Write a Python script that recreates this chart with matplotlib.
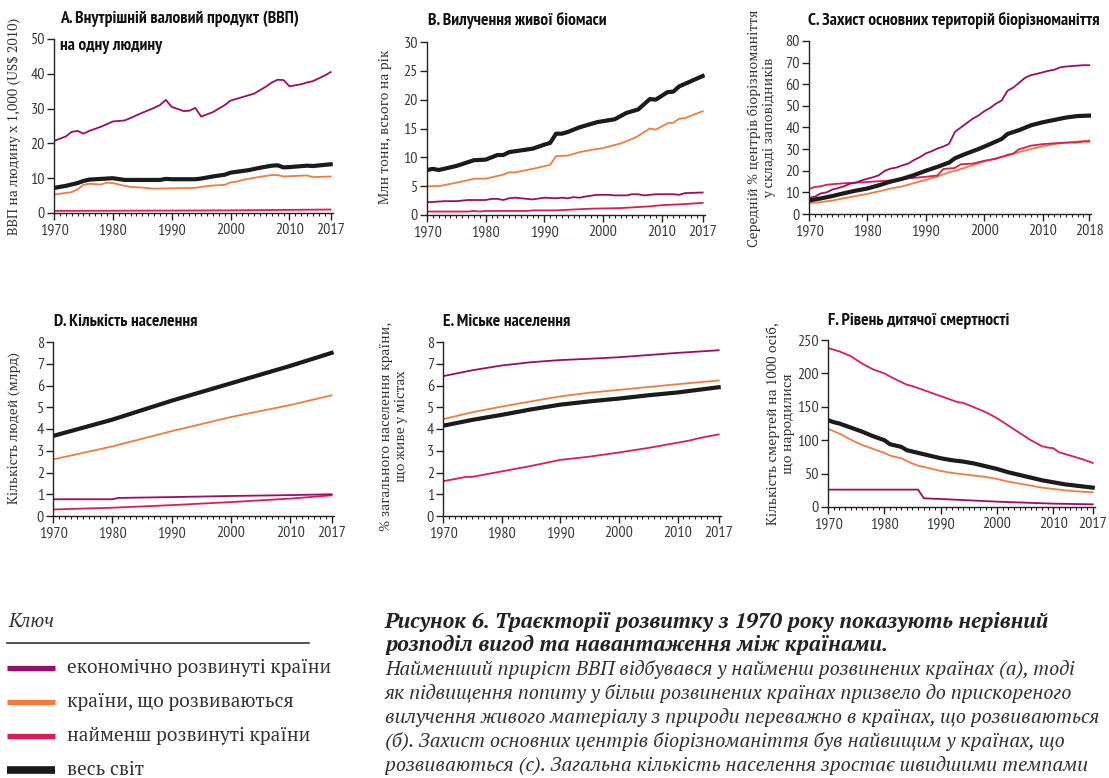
import matplotlib
matplotlib.use("Agg")
import matplotlib.pyplot as plt
from matplotlib.ticker import MultipleLocator, FixedLocator

# ---------------- DATA ----------------
# A. GDP per capita (thousand US$ 2010)
a_years_dev = [1970, 1972, 1973, 1974, 1975, 1976, 1978, 1980, 1982, 1983, 1985, 1987, 1988, 1989, 1990, 1992, 1993, 1994, 1995, 1997, 1999, 2000, 2002, 2004, 2006, 2007, 2008, 2009, 2010, 2012, 2013, 2014, 2016, 2017]
a_dev = [20.7, 22.0, 23.3, 23.6, 22.8, 23.6, 24.8, 26.3, 26.6, 27.3, 28.8, 30.2, 31.0, 32.5, 30.5, 29.3, 29.4, 30.2, 27.7, 29.0, 31.0, 32.3, 33.3, 34.3, 36.3, 37.5, 38.3, 38.2, 36.4, 37.0, 37.5, 37.9, 39.5, 40.5]
a_years_wld = [1970, 1972, 1974, 1975, 1976, 1979, 1980, 1982, 1985, 1988, 1989, 1990, 1994, 1995, 1997, 1999, 2000, 2003, 2005, 2007, 2008, 2009, 2010, 2013, 2014, 2017]
a_wld = [7.2, 7.8, 8.6, 9.2, 9.6, 9.9, 10.0, 9.5, 9.5, 9.5, 9.8, 9.7, 9.7, 9.9, 10.5, 11.0, 11.6, 12.3, 13.0, 13.6, 13.7, 13.1, 13.2, 13.6, 13.5, 14.0]
a_years_dvg = [1970, 1973, 1974, 1975, 1976, 1978, 1979, 1980, 1982, 1983, 1985, 1987, 1990, 1994, 1995, 1997, 1999, 2000, 2001, 2002, 2005, 2007, 2008, 2009, 2013, 2014, 2017]
a_dvg = [5.3, 6.0, 6.8, 8.1, 8.4, 8.2, 8.7, 8.6, 7.8, 7.5, 7.3, 7.0, 7.1, 7.2, 7.5, 7.9, 8.1, 8.8, 9.0, 9.5, 10.4, 10.9, 10.9, 10.5, 10.8, 10.3, 10.5]
a_years_ldc = [1970, 1980, 1990, 2000, 2010, 2017]
a_ldc = [0.6, 0.65, 0.7, 0.75, 0.9, 1.0]

# B. Living biomass extraction (Mt per year)
b_years_wld = [1970, 1971, 1972, 1975, 1978, 1980, 1982, 1983, 1984, 1986, 1988, 1990, 1991, 1992, 1993, 1994, 1996, 1999, 2002, 2004, 2006, 2008, 2009, 2011, 2012, 2013, 2017]
b_wld = [7.8, 8.0, 7.8, 8.5, 9.5, 9.6, 10.4, 10.4, 10.9, 11.2, 11.5, 12.2, 12.5, 14.1, 14.1, 14.4, 15.2, 16.1, 16.6, 17.7, 18.3, 20.1, 20.0, 21.3, 21.4, 22.3, 24.1]
b_years_dvg = [1970, 1972, 1974, 1976, 1978, 1980, 1983, 1984, 1985, 1988, 1991, 1992, 1994, 1996, 1998, 2000, 2003, 2005, 2006, 2008, 2009, 2011, 2012, 2013, 2014, 2017]
b_dvg = [5.0, 5.0, 5.4, 5.8, 6.3, 6.3, 7.0, 7.4, 7.4, 8.0, 8.7, 10.2, 10.3, 10.9, 11.3, 11.6, 12.4, 13.2, 13.7, 15.0, 14.8, 15.9, 16.0, 16.7, 16.8, 18.0]
b_years_dev = [1970, 1973, 1975, 1977, 1980, 1981, 1982, 1983, 1984, 1985, 1988, 1990, 1992, 1993, 1994, 1995, 1996, 1997, 1999, 2001, 2002, 2004, 2005, 2006, 2007, 2009, 2012, 2013, 2014, 2017]
b_dev = [2.2, 2.4, 2.4, 2.6, 2.6, 2.8, 2.8, 2.6, 2.9, 3.0, 2.7, 3.0, 2.9, 3.0, 2.9, 3.1, 3.0, 3.2, 3.5, 3.5, 3.4, 3.4, 3.6, 3.6, 3.4, 3.6, 3.6, 3.5, 3.8, 3.9]
b_years_ldc = [1970, 1977, 1978, 1979, 1980, 1987, 1988, 1992, 1994, 1998, 2003, 2008, 2010, 2012, 2014, 2017]
b_ldc = [0.6, 0.6, 0.7, 0.6, 0.7, 0.7, 0.8, 0.8, 0.9, 1.1, 1.2, 1.5, 1.7, 1.8, 1.9, 2.1]

# C. Protection of key biodiversity areas (%)
c_years_dev = [1970, 1971, 1972, 1973, 1974, 1975, 1976, 1977, 1978, 1979, 1980, 1981, 1982, 1983, 1984, 1985, 1986, 1987, 1988, 1989, 1990, 1991, 1992, 1993, 1994, 1995, 1996, 1997, 1998, 1999, 2000, 2001, 2002, 2003, 2004, 2005, 2006, 2007, 2008, 2009, 2010, 2011, 2012, 2013, 2014, 2015, 2016, 2017, 2018]
c_dev = [7.5, 8.0, 9.5, 10.0, 11.3, 12.0, 12.8, 14.0, 14.5, 15.5, 16.3, 17.0, 18.0, 20.0, 21.0, 21.5, 22.5, 23.3, 25.0, 26.3, 28.0, 29.0, 30.3, 31.2, 32.5, 38.0, 40.0, 42.0, 44.0, 45.5, 47.5, 49.0, 51.0, 52.5, 57.0, 58.5, 60.7, 63.0, 64.2, 64.8, 65.5, 66.2, 66.7, 67.8, 68.2, 68.4, 68.6, 68.8, 68.8]
c_years_ldc = [1970, 1971, 1972, 1973, 1974, 1976, 1978, 1980, 1984, 1986, 1988, 1990, 1992, 1993, 1995, 1996, 1998, 2000, 2002, 2004, 2005, 2006, 2007, 2008, 2010, 2012, 2014, 2016, 2017, 2018]
c_ldc = [11.5, 12.5, 12.8, 13.5, 13.8, 14.2, 14.5, 14.8, 15.5, 16.2, 16.7, 17.2, 17.8, 20.8, 21.3, 23.0, 23.3, 24.6, 25.5, 27.3, 28.0, 30.0, 30.7, 31.6, 32.3, 32.7, 33.0, 33.1, 33.5, 33.5]
c_years_dvg = [1970, 1972, 1974, 1976, 1978, 1980, 1982, 1984, 1986, 1988, 1990, 1992, 1994, 1996, 1998, 2000, 2002, 2004, 2006, 2008, 2010, 2012, 2014, 2016, 2018]
c_dvg = [5.0, 5.5, 6.2, 7.3, 8.3, 9.3, 10.5, 11.8, 12.8, 14.3, 15.8, 17.3, 19.3, 20.8, 22.5, 24.3, 25.8, 27.0, 28.7, 30.0, 31.3, 32.3, 33.0, 33.5, 34.0]
c_years_wld = [1970, 1972, 1974, 1976, 1978, 1980, 1982, 1984, 1986, 1988, 1990, 1992, 1994, 1995, 1997, 1999, 2001, 2003, 2004, 2006, 2008, 2010, 2012, 2014, 2016, 2018]
c_wld = [6.3, 7.2, 8.3, 9.6, 10.8, 11.8, 13.3, 15.0, 16.3, 18.0, 20.0, 21.8, 23.8, 25.8, 28.0, 30.0, 32.3, 34.7, 37.0, 38.8, 41.0, 42.4, 43.5, 44.6, 45.3, 45.5]

# D. Population (billion)
d_years = [1970, 1980, 1990, 2000, 2010, 2017]
d_wld = [3.68, 4.43, 5.3, 6.1, 6.9, 7.5]
d_dvg = [2.6, 3.2, 3.9, 4.55, 5.1, 5.55]
d_years_dev = [1970, 1980, 1981, 1990, 2000, 2010, 2017]
d_dev = [0.77, 0.77, 0.83, 0.87, 0.92, 0.96, 1.0]
d_ldc = [0.3, 0.38, 0.5, 0.64, 0.8, 0.95]

# E. Urban population
e_years = [1970, 1975, 1980, 1985, 1990, 1995, 2000, 2005, 2010, 2017]
e_dev = [6.43, 6.7, 6.92, 7.07, 7.17, 7.23, 7.3, 7.4, 7.5, 7.62]
e_dvg = [4.45, 4.77, 5.03, 5.27, 5.5, 5.67, 5.8, 5.93, 6.06, 6.23]
e_wld = [4.15, 4.42, 4.65, 4.9, 5.12, 5.27, 5.4, 5.55, 5.68, 5.92]
e_years_ldc = [1970, 1974, 1975, 1980, 1985, 1990, 1995, 2000, 2005, 2010, 2012, 2014, 2017]
e_ldc = [1.6, 1.8, 1.8, 2.05, 2.3, 2.58, 2.73, 2.92, 3.13, 3.37, 3.47, 3.6, 3.75]

# F. Child mortality (per 1000 births)
f_years_ldc = [1970, 1972, 1974, 1976, 1978, 1980, 1982, 1984, 1985, 1988, 1990, 1992, 1993, 1994, 1996, 1998, 2000, 2002, 2004, 2006, 2008, 2009, 2010, 2011, 2013, 2015, 2017]
f_ldc = [238, 233, 226, 215, 206, 200, 191, 183, 181, 172, 166, 160, 157, 156, 149, 142, 133, 122, 111, 100, 91, 89, 88, 82, 77, 72, 66]
f_years_wld = [1970, 1971, 1972, 1974, 1976, 1978, 1980, 1981, 1982, 1983, 1984, 1986, 1988, 1990, 1992, 1994, 1996, 1998, 2000, 2002, 2004, 2006, 2008, 2010, 2012, 2014, 2017]
f_wld = [130, 127, 125, 119, 113, 106, 100, 94, 92, 90, 85, 81, 77, 73, 70, 68, 65, 61, 57, 52, 48, 44, 40, 37, 34, 32, 29]
f_years_dvg = [1970, 1972, 1974, 1976, 1978, 1980, 1981, 1983, 1984, 1985, 1986, 1988, 1990, 1992, 1994, 1996, 1998, 2000, 2002, 2004, 2006, 2008, 2010, 2012, 2014, 2017]
f_dvg = [117, 110, 101, 93, 87, 81, 77, 73, 69, 65, 62, 58, 54, 51, 49, 47, 45, 42, 38, 35, 32, 29, 27, 25, 23.5, 22]
f_years_dev = [1970, 1986, 1987, 1990, 2000, 2010, 2017]
f_dev = [26, 26, 13, 12, 8, 5, 4]

titles = ["A. Внутрішній валовий продукт (ВВП)\nна одну людину",
          "B. Вилучення живої біомаси",
          "C. Захист основних територій біорізноманіття",
          "D. Кількість населення",
          "E. Міське населення",
          "F. Рівень дитячої смертності"]
ylabels = ["ВВП на людину х 1,000 (US$ 2010)",
           "Млн тонн, всього на рік",
           "Середній % центрів біорізноманіття\nу складі заповідників",
           "Кількість людей (млрд)",
           "% загального населення країни,\nщо живе у містах",
           "Кількість смертей на 1000 осіб,\nщо народилися"]
legend_labels = ["економічно розвинуті країни", "країни, що розвиваються",
                 "найменш розвинуті країни", "весь світ"]
caption_bold = ["Рисунок 6. Траєкторії розвитку з 1970 року показують нерівний",
                "розподіл вигод та навантаження між країнами."]
caption_lines = ["Найменший приріст ВВП відбувався у найменш розвинених країнах (а), тоді",
                 "як підвищення попиту у більш розвинених країнах призвело до прискореного",
                 "вилучення живого матеріалу з природи переважно в країнах, що розвиваються",
                 "(б). Захист основних центрів біорізноманіття був найвищим у країнах, що",
                 "розвиваються (с). Загальна кількість населення зростає швидшими темпами"]

# ---------------- STYLE ----------------
C_DEV = "#9C0B6B"
C_DVG = "#F47A3E"
C_LDC = "#DB1C55"
C_WLD = "#1B1B1B"
LW_THIN = 1.3
LW_WLD = 3.0

TITLE_FONT = ["PT Sans Narrow", "Oswald", "DejaVu Sans"]
TICK_FONT = ["PT Sans Narrow", "Roboto Condensed", "DejaVu Sans"]
SERIF = ["PT Serif", "Liberation Serif", "DejaVu Serif"]

W, H = 1109, 778
fig = plt.figure(figsize=(W / 100, H / 100), dpi=100)


def fx(px):
    return px / W


def fy(py):
    return 1 - py / H


def make_ax(left, top, right, bottom, xmax, ymax, ystep, xticks, xlabels):
    ax = fig.add_axes([fx(left), fy(bottom), fx(right - left), (bottom - top) / H])
    ax.set_xlim(1970, xmax)
    ax.set_ylim(0, ymax)
    for s in ["top", "right"]:
        ax.spines[s].set_visible(False)
    for s in ["left", "bottom"]:
        ax.spines[s].set_color("#222222")
        ax.spines[s].set_linewidth(1.0)
    ax.yaxis.set_major_locator(MultipleLocator(ystep))
    ax.xaxis.set_major_locator(FixedLocator(xticks))
    ax.xaxis.set_minor_locator(MultipleLocator(1))
    ax.set_xticklabels(xlabels)
    ax.tick_params(axis="both", which="major", direction="out", length=5, width=1.0,
                   color="#222222", labelcolor="#3a3a3a", labelsize=11.5)
    ax.tick_params(axis="y", which="major", pad=1.5)
    ax.tick_params(axis="x", which="major", pad=2.5)
    ax.tick_params(axis="x", which="minor", direction="out", length=2.5, width=0.8, color="#222222")
    for lab in ax.get_xticklabels() + ax.get_yticklabels():
        lab.set_family(TICK_FONT)
    ax.patch.set_alpha(0)
    return ax


xt17 = [1970, 1980, 1990, 2000, 2010, 2017]
xl17 = ["1970", "1980", "1990", "2000", "2010", "2017"]
xt18 = [1970, 1980, 1990, 2000, 2010, 2018]
xl18 = ["1970", "1980", "1990", "2000", "2010", "2018"]

# Panel A
axA = make_ax(54, 39, 333, 213, 2017.4, 50, 10, xt17, xl17)
axA.plot(a_years_ldc, a_ldc, color=C_LDC, lw=LW_THIN)
axA.plot(a_years_dvg, a_dvg, color=C_DVG, lw=LW_THIN)
axA.plot(a_years_wld, a_wld, color=C_WLD, lw=LW_WLD)
axA.plot(a_years_dev, a_dev, color=C_DEV, lw=LW_THIN)

# Panel B
axB = make_ax(427, 42, 705, 215, 2017.4, 30, 5, xt17, xl17)
axB.plot(b_years_ldc, b_ldc, color=C_LDC, lw=LW_THIN)
axB.plot(b_years_dev, b_dev, color=C_DEV, lw=LW_THIN)
axB.plot(b_years_dvg, b_dvg, color=C_DVG, lw=LW_THIN)
axB.plot(b_years_wld, b_wld, color=C_WLD, lw=LW_WLD)

# Panel C
axC = make_ax(809, 41, 1091, 214, 2018.3, 80, 10, xt18, xl18)
axC.plot(c_years_dvg, c_dvg, color=C_DVG, lw=LW_THIN)
axC.plot(c_years_ldc, c_ldc, color=C_LDC, lw=LW_THIN)
axC.plot(c_years_wld, c_wld, color=C_WLD, lw=LW_WLD)
axC.plot(c_years_dev, c_dev, color=C_DEV, lw=LW_THIN)

# Panel D
axD = make_ax(53, 342, 334, 516, 2017.4, 8, 1, xt17, xl17)
axD.plot(d_years, d_ldc, color=C_LDC, lw=LW_THIN)
axD.plot(d_years_dev, d_dev, color=C_DEV, lw=LW_THIN)
axD.plot(d_years, d_dvg, color=C_DVG, lw=LW_THIN)
axD.plot(d_years, d_wld, color=C_WLD, lw=LW_WLD)

# Panel E
axE = make_ax(443, 342, 721, 516, 2017.4, 8, 1, xt17, xl17)
axE.plot(e_years_ldc, e_ldc, color=C_LDC, lw=LW_THIN)
axE.plot(e_years, e_dev, color=C_DEV, lw=LW_THIN)
axE.plot(e_years, e_dvg, color=C_DVG, lw=LW_THIN)
axE.plot(e_years, e_wld, color=C_WLD, lw=LW_WLD)

# Panel F
axF = make_ax(828, 340, 1095, 507, 2017.4, 250, 50, xt17, xl17)
axF.plot(f_years_dev, f_dev, color=C_DEV, lw=LW_THIN)
axF.plot(f_years_dvg, f_dvg, color=C_DVG, lw=LW_THIN)
axF.plot(f_years_ldc, f_ldc, color=C_LDC, lw=LW_THIN)
axF.plot(f_years_wld, f_wld, color=C_WLD, lw=LW_WLD)

# Titles (baseline positions)
title_pos = [(60, 23), (428, 25), (808, 25), (54, 326), (443, 326), (828, 325)]
for t, (x, y) in zip(titles, title_pos):
    for i, line in enumerate(t.split("\n")):
        fig.text(fx(x), fy(y + 27 * i), line, ha="left", va="baseline", family=TITLE_FONT,
                 weight="bold", fontsize=12.6, color="#111111")

# Y labels
ylab_pos = [(15, 126), (385, 127), (762, 128), (15, 428), (394, 426), (781, 424)]
for t, (x, y) in zip(ylabels, ylab_pos):
    fig.text(fx(x), fy(y), t, ha="center", va="center", rotation=90, family=SERIF,
             fontsize=10, color="#333333", linespacing=1.2, multialignment="center")

# Key / legend
fig.text(fx(8), fy(627), "Ключ", ha="left", va="baseline", family=SERIF, style="italic",
         fontsize=14, color="#333333")
fig.add_artist(plt.Line2D([fx(7), fx(309)], [fy(643), fy(643)], color="#333333", lw=1.2))
leg_colors = [C_DEV, C_DVG, C_LDC, C_WLD]
leg_y = [668, 702, 736, 770]
leg_lw = [3.8, 3.8, 3.8, 5.5]
for lab, col, y, lw in zip(legend_labels, leg_colors, leg_y, leg_lw):
    fig.add_artist(plt.Line2D([fx(7), fx(55)], [fy(y), fy(y)], color=col, lw=lw,
                              solid_capstyle="butt"))
    fig.text(fx(67), fy(y + 5), lab, ha="left", va="baseline", family=SERIF, fontsize=13.8,
             color="#333333")

# Caption
cap_y_bold = [628, 651]
for t, y in zip(caption_bold, cap_y_bold):
    fig.text(fx(385), fy(y), t, ha="left", va="baseline", family=SERIF, style="italic",
             weight="bold", fontsize=15.3, color="#222222")
cap_y = [675, 699, 723, 747, 772]
for t, y in zip(caption_lines, cap_y):
    fig.text(fx(385), fy(y), t, ha="left", va="baseline", family=SERIF, style="italic",
             fontsize=14.4, color="#333333")

fig.savefig("out.png", dpi=100)
